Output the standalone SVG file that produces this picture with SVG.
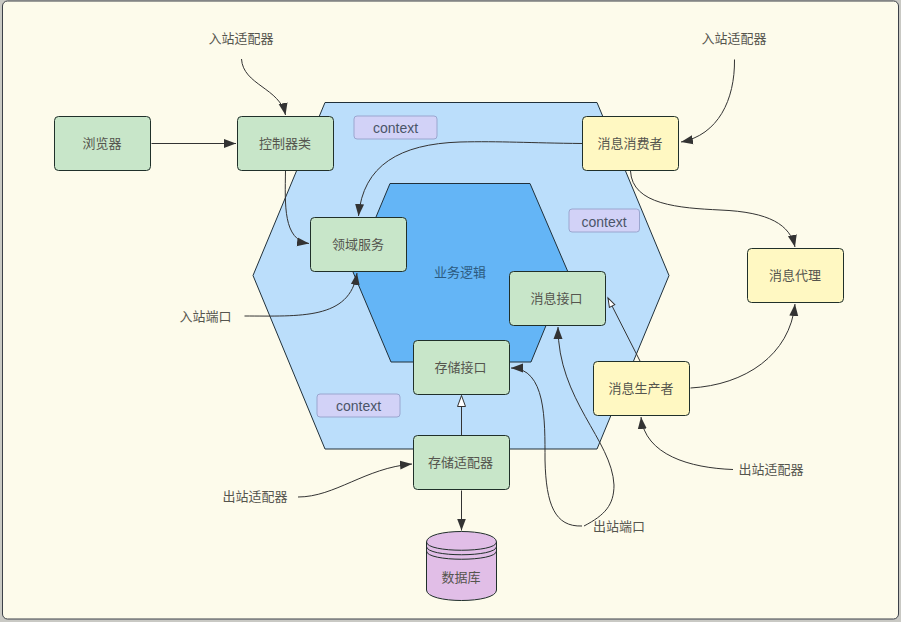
<svg xmlns="http://www.w3.org/2000/svg" width="901" height="622" viewBox="0 0 901 622">
<style>
text{font-family:"Liberation Sans","Noto Sans CJK SC",sans-serif;font-size:13px;fill:#55554e;text-anchor:middle;dominant-baseline:central}
.n{stroke:#20302a;stroke-width:1}
.g{fill:#c8e6c9}
.y{fill:#fff8c2}
.c{fill:#d2d2f7;stroke:#9aa6cf;stroke-width:1}
.c+text{font-size:14px;fill:#4a5568}
.h{stroke:#20303a;stroke-width:1}
#conn path{fill:none;stroke:#333;stroke-width:1;marker-end:url(#a)}
#conn path.o{marker-end:url(#o)}
#conn path.s{marker-end:url(#s)}
</style>
<defs>
<marker id="a" markerUnits="userSpaceOnUse" markerWidth="14" markerHeight="12" refX="12" refY="5" orient="auto"><path d="M0 .5L12 5L0 9.500Z" fill="#333"/></marker>
<marker id="o" markerUnits="userSpaceOnUse" markerWidth="14" markerHeight="12" refX="12" refY="5" orient="auto"><path d="M1 1L12 5L1 9Z" fill="#fff" stroke="#333"/></marker>
<marker id="s" markerUnits="userSpaceOnUse" markerWidth="12" markerHeight="10" refX="10" refY="4" orient="auto"><path d="M1 1L10 4L1 7Z" fill="#fff" stroke="#333"/></marker>
</defs>
<rect width="901" height="622" fill="#c9c9c4"/>
<rect x="2.500" y="1" width="896" height="618" rx="5" fill="#fdfbeb" stroke="#3c4048" stroke-width="1"/>
<g id="hex-outer"><path class="h" fill="#bbdefb" d="M325 102.500H597L669 275.500L597 449H325L253 275.500Z"/></g>
<g id="hex-inner"><path class="h" fill="#64b5f6" d="M390 183.500H530L568 272L531 362H391L353 272Z"/><text x="460" y="272" style="fill:#2c5a80">业务逻辑</text></g>
<g id="conn">
<path d="M151.500 143.500H236"/>
<path d="M241.500 59C243 85 280 88 285.500 115"/>
<path d="M285.500 170.500C285 205 283 240 309 243.500"/>
<path d="M582 143.500C530 143 500 141 460 142C400 144 363 165 358.500 216"/>
<path d="M734.500 59.500C735 100 718 135 681 142"/>
<path d="M630.500 171C632 205 680 208 720 210C770 212 790 225 795 247"/>
<path d="M244.500 316C300 316 350 320 357 273"/>
<path d="M640 361L608 298" class="s"/>
<path d="M690.500 388C745 385 790 355 795 304"/>
<path d="M733 469.500C690 468 645 455 641 417"/>
<path d="M298 497C335 497 365 468 412 464"/>
<path d="M461.500 435V395.500" class="o"/>
<path d="M461.500 490.500V530.500"/>
<path d="M582 526C555 527 546 505 545 460C545 420 546 368 511 368"/>
<path d="M584 526C605 515 614 505 614 485C612 440 558 400 558 327"/>
</g>
<g id="browser"><rect class="n g" x="54.500" y="116.500" width="96" height="54" rx="4"/><text x="102" y="143.500">浏览器</text></g>
<g id="controller"><rect class="n g" x="237.500" y="116.500" width="96" height="54" rx="4"/><text x="285" y="143.500">控制器类</text></g>
<g id="domain"><rect class="n g" x="310.500" y="217.500" width="96" height="54" rx="4"/><text x="358" y="244.500">领域服务</text></g>
<g id="consumer"><rect class="n y" x="582.500" y="116.500" width="96" height="54" rx="4"/><text x="630" y="143.500">消息消费者</text></g>
<g id="broker"><rect class="n y" x="747.500" y="248.500" width="96" height="54" rx="4"/><text x="795" y="275.500">消息代理</text></g>
<g id="msgport"><rect class="n g" x="509.500" y="271.500" width="96" height="54" rx="4"/><text x="556.500" y="298.500">消息接口</text></g>
<g id="storeport"><rect class="n g" x="413.500" y="340.500" width="96" height="54" rx="4"/><text x="460.500" y="367.500">存储接口</text></g>
<g id="producer"><rect class="n y" x="593.500" y="361.500" width="96" height="54" rx="4"/><text x="641" y="388.500">消息生产者</text></g>
<g id="storeadapter"><rect class="n g" x="413.500" y="435.500" width="96" height="54" rx="4"/><text x="460.500" y="462.500">存储适配器</text></g>
<g id="db"><path class="n" fill="#e1bee7" d="M426.500 542C426.500 528 496.500 528 496.500 542V590C496.500 604 426.500 604 426.500 590Z"/><path class="n" fill="none" d="M426.500 542C426.500 553 496.500 553 496.500 542M426.500 546.500C426.500 557.500 496.500 557.500 496.500 546.500M426.500 551C426.500 562 496.500 562 496.500 551"/><text x="461" y="577.500">数据库</text></g>
<g id="ctx1"><rect class="c" x="354" y="116" width="83" height="23" rx="3"/><text x="395.500" y="127.500">context</text></g>
<g id="ctx2"><rect class="c" x="569" y="209" width="70.500" height="23" rx="3"/><text x="604" y="221.500">context</text></g>
<g id="ctx3"><rect class="c" x="317" y="394" width="83" height="23" rx="3"/><text x="358.500" y="405.500">context</text></g>
<g id="labels">
<text x="241" y="38">入站适配器</text>
<text x="734" y="38">入站适配器</text>
<text x="205.500" y="316">入站端口</text>
<text x="255" y="496.500">出站适配器</text>
<text x="771" y="469.500">出站适配器</text>
<text x="619" y="526">出站端口</text>
</g>
</svg>
